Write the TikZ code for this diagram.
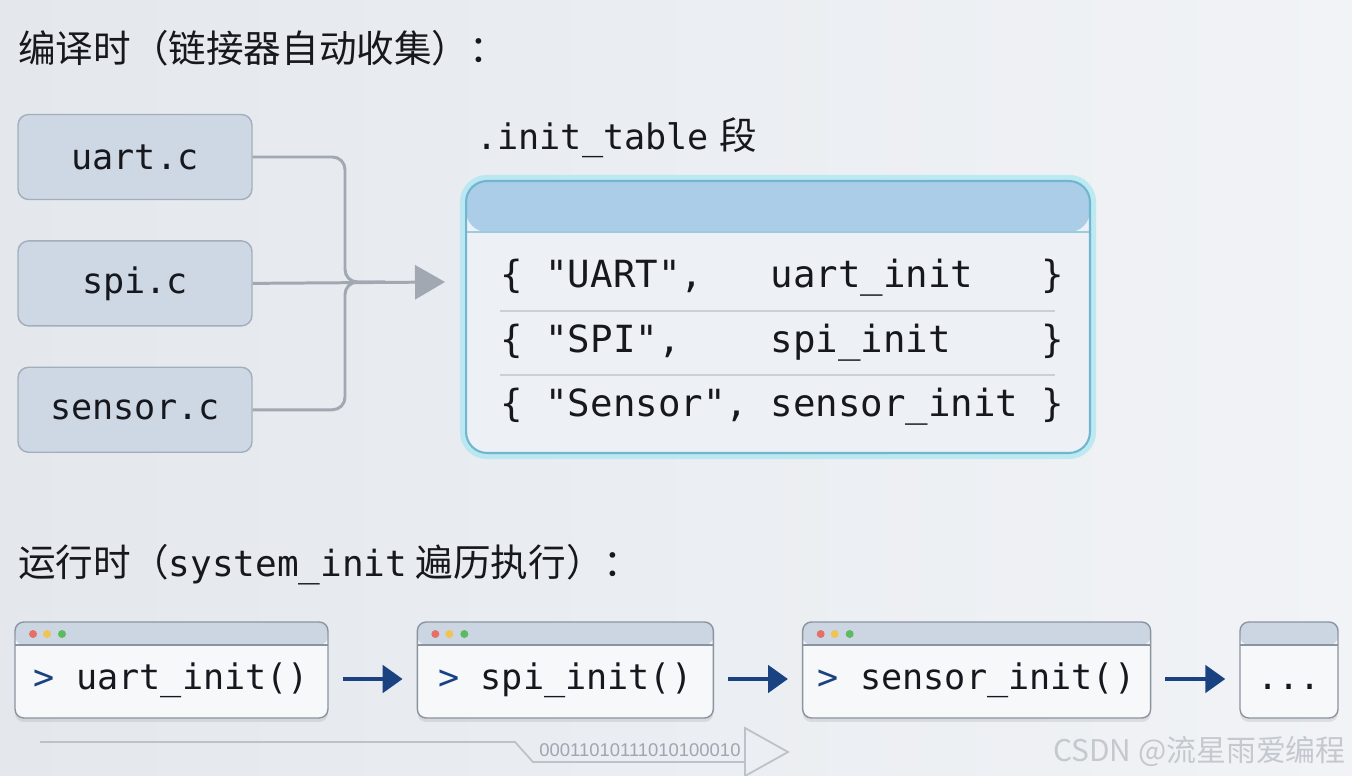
\documentclass[tikz,border=0pt]{standalone}
\usepackage{fontspec}
\setmonofont{DejaVu Sans Mono}
\setsansfont{Liberation Sans}
\newfontfamily\cjk{Noto Sans CJK SC}
\usetikzlibrary{arrows.meta, positioning, shadows}
\definecolor{pagebg}{RGB}{228,232,237}
\definecolor{pagebgr}{RGB}{241,243,246}
\definecolor{inktext}{RGB}{22,24,30}
\definecolor{filefill}{RGB}{205,216,228}
\definecolor{filedraw}{RGB}{163,174,188}
\definecolor{linkgray}{RGB}{162,168,178}
\definecolor{tabhead}{RGB}{171,205,232}
\definecolor{tabbody}{RGB}{237,241,246}
\definecolor{tabdraw}{RGB}{112,182,206}
\definecolor{tabglow}{RGB}{150,228,242}
\definecolor{rowline}{RGB}{203,208,215}
\definecolor{winbar}{RGB}{204,214,226}
\definecolor{winbody}{RGB}{246,248,250}
\definecolor{windraw}{RGB}{138,148,160}
\definecolor{runblue}{RGB}{26,66,128}
\definecolor{dotred}{RGB}{229,112,104}
\definecolor{dotyellow}{RGB}{238,196,84}
\definecolor{dotgreen}{RGB}{92,186,96}
\definecolor{binline}{RGB}{188,194,202}
\definecolor{bintext}{RGB}{160,166,176}
\definecolor{wmark}{RGB}{196,200,207}
\newcommand{\codefont}{\ttfamily\fontsize{20}{24}\selectfont}
\newcommand{\headfont}{\fontsize{21.4}{26}\selectfont}
\newcommand{\winbar}{%
  \fill[winbar] (path picture bounding box.north west)
    rectangle ([yshift=-0.46cm]path picture bounding box.north east);
  \draw[windraw, line width=0.6pt]
    ([yshift=-0.46cm]path picture bounding box.north west)
    -- ([yshift=-0.46cm]path picture bounding box.north east);}

\begin{document}
\begin{tikzpicture}[
  x=0.02cm, y=-0.02cm,
  every node/.style={text=inktext},
  head/.style={anchor=west, inner sep=0pt, font=\headfont},
  filebox/.style={draw=filedraw, fill=filefill, line width=0.8pt,
    rounded corners=6pt, minimum width=4.68cm, minimum height=1.7cm,
    font=\codefont},
  link/.style={draw=linkgray, line width=1.7pt, rounded corners=0.25cm},
  tabbox/.style={draw=tabdraw, fill=tabbody, line width=1.2pt,
    rounded corners=0.42cm, minimum width=12.48cm, minimum height=5.44cm,
    preaction={draw=tabglow, line width=7pt, opacity=.55},
    path picture={\fill[tabhead] (path picture bounding box.north west)
      rectangle ([yshift=-1.02cm]path picture bounding box.north east);
      \draw[tabdraw!70, line width=0.6pt]
        ([yshift=-1.02cm]path picture bounding box.north west)
        -- ([yshift=-1.02cm]path picture bounding box.north east);}},
  rowtext/.style={anchor=west, inner sep=0pt,
    font=\ttfamily\fontsize{21.3}{25}\selectfont},
  rowsep/.style={draw=rowline, line width=0.8pt},
  winbox/.style={draw=windraw, line width=0.8pt, fill=winbody,
    rounded corners=5pt, font=\codefont, inner xsep=0pt, inner ysep=0.3cm,
    text height=1.06cm, text depth=0.26cm,
    drop shadow={shadow xshift=0pt, shadow yshift=-0.08cm, opacity=.18},
    path picture={\winbar}},
  windots/.style={winbox,
    path picture={\winbar
      \fill[dotred]    ([xshift=0.36cm,yshift=-0.24cm]path picture bounding box.north west) circle (0.08cm);
      \fill[dotyellow] ([xshift=0.64cm,yshift=-0.24cm]path picture bounding box.north west) circle (0.08cm);
      \fill[dotgreen]  ([xshift=0.94cm,yshift=-0.24cm]path picture bounding box.north west) circle (0.08cm);}},
  run/.style={draw=runblue, line width=2.8pt,
    -{Triangle[length=0.4cm, width=0.54cm]},
    shorten <=0.28cm, shorten >=0.28cm},
  binpath/.style={draw=binline, line width=1pt}
]

% page
\shade[left color=pagebg, right color=pagebgr] (0,0) rectangle (1352,776);
\useasboundingbox (0,0) rectangle (1352,776);

% compile time
\node[head] (title1) at (18,48) {\cjk 编译时（链接器自动收集）：};

\node[filebox] (uart) at (135,157) {uart.c};
\node[filebox, below=0.8cm of uart] (spi) {spi.c};
\node[filebox, below=0.8cm of spi]  (sensor) {sensor.c};

\coordinate (merge)   at (345,282);
\coordinate (mergeout) at (385,282);
\coordinate (tabin)   at (445,282);

\draw[link] (uart.east) -| (merge) -- (mergeout);
\draw[link] (sensor.east) -| (merge) -- (mergeout);
\draw[link, -{Triangle[length=0.6cm, width=0.68cm]}] (spi.east) -- (tabin);

\node[head, font=\codefont] (seclabel) at (476,138)
  {.init\_table\hspace{0.3em}{\cjk\headfont 段}};

\node[tabbox] (tab) at (778,317) {};

\node[rowtext] (row1) at (500,278) {\{~"UART",~~~uart\_init~~~\}};
\node[rowtext] (row2) at (500,343) {\{~"SPI",~~~~spi\_init~~~~\}};
\node[rowtext] (row3) at (500,407) {\{~"Sensor",~sensor\_init~\}};
\draw[rowsep] (500,311) -- (1055,311);
\draw[rowsep] (500,375) -- (1055,375);

% run time
\node[head] (title2) at (18,565)
  {\cjk 运行时（{\ttfamily\fontsize{20.5}{25}\selectfont system\_init} 遍历执行）：};

\node[windots, minimum width=6.26cm] (w1) at (171.5,670)
  {{\color{runblue}>}~uart\_init()};
\node[windots, minimum width=5.92cm, right=1.76cm of w1] (w2)
  {{\color{runblue}>}~spi\_init()};
\node[windots, minimum width=6.96cm, right=1.76cm of w2] (w3)
  {{\color{runblue}>}~sensor\_init()};
\node[winbox, minimum width=1.96cm, right=1.76cm of w3] (w4) {...};

\draw[run] ([yshift=-0.18cm]w1.east) -- ([yshift=-0.18cm]w2.west);
\draw[run] ([yshift=-0.18cm]w2.east) -- ([yshift=-0.18cm]w3.west);
\draw[run] ([yshift=-0.18cm]w3.east) -- ([yshift=-0.18cm]w4.west);

% bit stream
\draw[binpath] (40,742) -- (515,742) -- (533,762) -- (745,762);
\draw[binpath] (745,762) -- (745,728) -- (788,752) -- (745,776) -- cycle;
\node[font=\sffamily\fontsize{10.5}{12}\selectfont, text=bintext] (bits)
  at (640,750) {00011010111010100010};

\node[anchor=east, inner sep=0pt, text=wmark,
  font=\cjk\fontsize{17}{20}\selectfont] (wm) at (1346,751) {CSDN @流星雨爱编程};

\end{tikzpicture}
\end{document}
